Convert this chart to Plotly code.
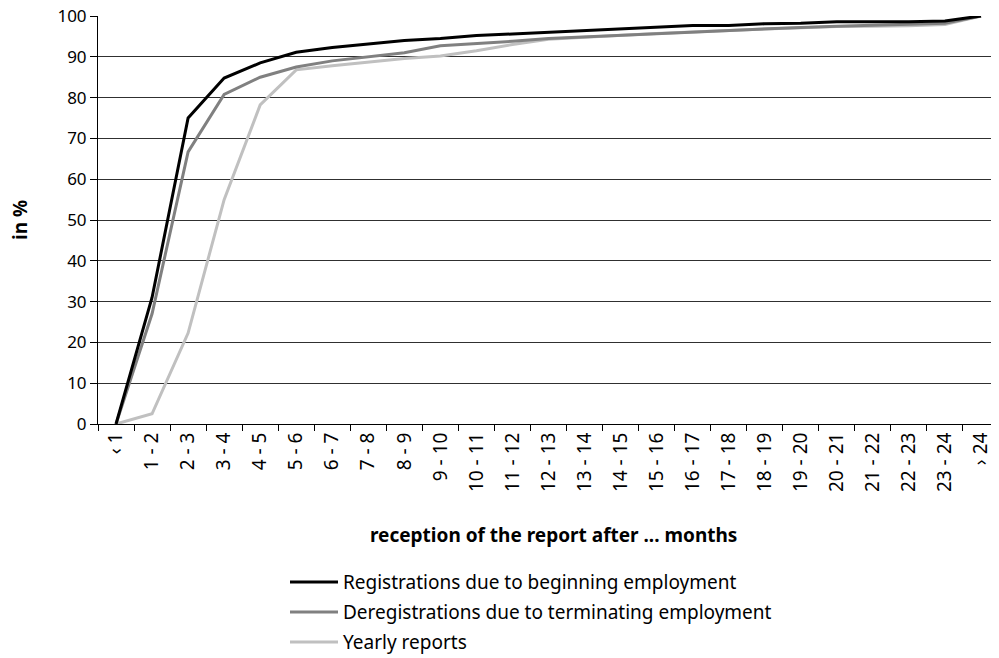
"""Reception delay of reports: cumulative share by months after event."""

import plotly.graph_objects as go

CATEGORIES = [
    "‹ 1", "1 - 2", "2 - 3", "3 - 4", "4 - 5", "5 - 6", "6 - 7", "7 - 8",
    "8 - 9", "9 - 10", "10 - 11", "11 - 12", "12 - 13", "13 - 14", "14 - 15",
    "15 - 16", "16 - 17", "17 - 18", "18 - 19", "19 - 20", "20 - 21",
    "21 - 22", "22 - 23", "23 - 24", "› 24",
]

REGISTRATIONS = [
    0, 31, 75, 84.8, 88.5, 91.1, 92.3, 93.2, 94, 94.5, 95.2, 95.6, 96,
    96.4, 96.8, 97.2, 97.7, 97.7, 98.1, 98.2, 98.6, 98.6, 98.6, 98.8, 100,
]
DEREGISTRATIONS = [
    0, 27, 66.7, 80.8, 85, 87.5, 89, 90, 91, 92.7, 93.2, 93.8, 94.5,
    94.9, 95.3, 95.6, 96, 96.4, 96.8, 97.2, 97.5, 97.7, 97.9, 98.2, 100,
]
YEARLY = [
    0, 2.5, 22.3, 55, 78.2, 86.8, 87.8, 88.7, 89.6, 90.2, 91.5, 93, 94.3,
    94.8, 95.3, 95.7, 96.1, 96.5, 96.8, 97.1, 97.4, 97.5, 97.6, 97.9, 100,
]

SERIES = [
    ("Registrations due to beginning employment", REGISTRATIONS, "#000000"),
    ("Deregistrations due to terminating employment", DEREGISTRATIONS, "#808080"),
    ("Yearly reports", YEARLY, "#c0c0c0"),
]

FONT = "Noto Sans"

# plot area on screen: x 98..999, y 16..424 (page body adds an 8px offset)
PLOT_LEFT, PLOT_W, PLOT_BOTTOM, PLOT_H = 98, 901, 424, 408


def px_x(px):
    return (px - PLOT_LEFT) / PLOT_W


def px_y(py):
    return (PLOT_BOTTOM - py) / PLOT_H


fig = go.Figure()
for name, values, color in reversed(SERIES):
    fig.add_trace(
        go.Scatter(
            x=CATEGORIES,
            y=values,
            name=name,
            mode="lines",
            line={"color": color, "width": 3},
            showlegend=False,
        )
    )

# hand-drawn legend below the x-axis title, long sample lines like the original
shapes = []
annotations = []
for i, (name, _, color) in enumerate(SERIES):
    y = px_y(582 + i * 30)
    shapes.append(
        {
            "type": "line",
            "xref": "paper",
            "yref": "paper",
            "x0": px_x(290),
            "x1": px_x(338),
            "y0": y,
            "y1": y,
            "line": {"color": color, "width": 3},
        }
    )
    annotations.append(
        {
            "text": name,
            "x": px_x(341),
            "y": y,
            "xref": "paper",
            "yref": "paper",
            "xanchor": "left",
            "yanchor": "middle",
            "showarrow": False,
            "font": {"size": 19},
        }
    )

annotations += [
    {
        "text": "<b>reception of the report after ... months</b>",
        "x": 0.506,
        "y": px_y(535),
        "xref": "paper",
        "yref": "paper",
        "xanchor": "center",
        "yanchor": "middle",
        "showarrow": False,
        "font": {"size": 19},
    },
    {
        "text": "<b>in %</b>",
        "x": px_x(20),
        "y": 0.5,
        "xref": "paper",
        "yref": "paper",
        "textangle": -90,
        "xanchor": "center",
        "yanchor": "middle",
        "showarrow": False,
        "font": {"size": 19},
    },
]

fig.update_layout(
    width=991,
    height=650,
    margin={"l": 90, "r": 0, "t": 8, "b": 234, "autoexpand": False},
    plot_bgcolor="white",
    paper_bgcolor="white",
    font={"family": FONT, "size": 19, "color": "#000000"},
    showlegend=False,
    shapes=shapes,
    annotations=annotations,
)

fig.update_xaxes(
    type="category",
    range=[-0.5, len(CATEGORIES) - 0.5],
    automargin=False,
    tickangle=-90,
    tickson="boundaries",
    ticks="outside",
    ticklen=6,
    tickcolor="#000000",
    tickfont={"size": 19},
    ticklabeloverflow="allow",
    showline=True,
    linecolor="#000000",
    linewidth=1,
    showgrid=False,
)
fig.update_yaxes(
    range=[0, 100],
    dtick=10,
    automargin=False,
    ticks="outside",
    ticklen=7,
    tickcolor="#000000",
    tickfont={"size": 17},
    ticklabeloverflow="allow",
    showline=True,
    linecolor="#000000",
    linewidth=1,
    showgrid=True,
    gridcolor="#303030",
    gridwidth=1,
    zeroline=False,
)

fig.write_html("out.html")
